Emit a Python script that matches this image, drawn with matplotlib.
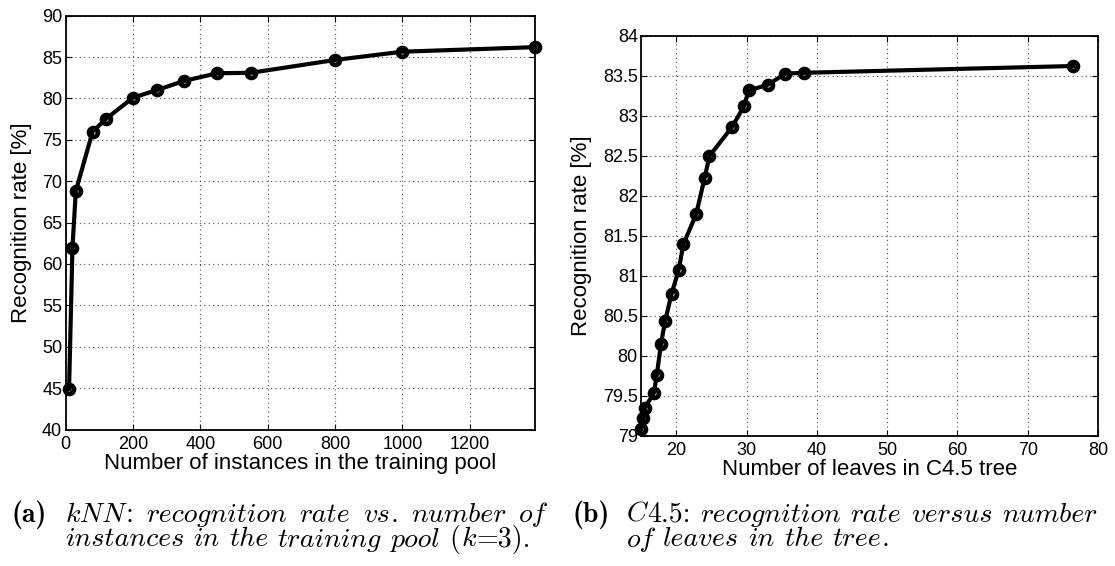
import matplotlib
matplotlib.use("Agg")
import matplotlib.pyplot as plt
from matplotlib.font_manager import FontProperties
from matplotlib.ticker import FuncFormatter, MultipleLocator

# kNN: size of the training pool vs. recognition rate
knn_instances = [10, 20, 30, 80, 120, 200, 270, 350, 450, 550, 800, 1000, 1395]
knn_rate = [44.9, 61.9, 68.8, 76.0, 77.55, 80.1, 81.0, 82.1, 83.05, 83.1, 84.65, 85.65, 86.2]

# C4.5: number of leaves vs. recognition rate
c45_leaves = [15.0, 15.3, 15.5, 16.8, 17.2, 17.8, 18.4, 19.3, 20.3, 21.0, 22.8,
              24.0, 24.7, 27.9, 29.6, 30.3, 33.0, 35.5, 38.2, 76.5]
c45_rate = [79.09, 79.22, 79.35, 79.54, 79.76, 80.15, 80.44, 80.775, 81.07, 81.40, 81.77,
            82.22, 82.50, 82.86, 83.12, 83.32, 83.39, 83.53, 83.54, 83.625]

knn_xticks = [0, 200, 400, 600, 800, 1000, 1200]
c45_xticks = [20, 30, 40, 50, 60, 70, 80]

caption_a = ["(a)", "kNN: recognition rate vs. number of", "instances in the training pool (k=3)."]
caption_b = ["(b)", "C4.5: recognition rate versus number", "of leaves in the tree."]

W, H = 1115, 566
DPI = 100
plt.rcParams["font.family"] = ["Liberation Sans", "DejaVu Sans"]
fig = plt.figure(figsize=(W / DPI, H / DPI), dpi=DPI)


def px_axes(left, top, right, bottom):
    return fig.add_axes([left / W, 1 - bottom / H, (right - left) / W, (bottom - top) / H])


def style(ax, xpad):
    ax.grid(True, color="0.3", linestyle=(0, (1, 3)), linewidth=0.8)
    ax.set_axisbelow(True)
    for s in ax.spines.values():
        s.set_linewidth(1.3)
    ax.tick_params(direction="in", length=4, width=0.8, labelsize=13,
                   top=True, right=True)
    ax.tick_params(axis="y", pad=2.5)
    ax.tick_params(axis="x", pad=xpad)


line_kw = dict(color="black", linewidth=3.0, marker="o", markersize=6.4,
               markerfacecolor="none", markeredgewidth=3.4, clip_on=False, zorder=5)
label_fs = 16

# left panel
ax1 = px_axes(65.7, 15.7, 535.3, 429.5)
ax1.plot(knn_instances, knn_rate, **line_kw)
ax1.set_xlim(0, 1395)
ax1.set_ylim(40, 90)
ax1.set_xticks(knn_xticks)
ax1.yaxis.set_major_locator(MultipleLocator(5))
style(ax1, 5.0)
ax1.set_xlabel("Number of instances in the training pool", fontsize=label_fs, labelpad=0)
ax1.set_ylabel("Recognition rate [%]", fontsize=label_fs, labelpad=7)

# right panel
ax2 = px_axes(641.3, 36, 1098, 436)
ax2.plot(c45_leaves, c45_rate, **line_kw)
ax2.set_xlim(15, 80)
ax2.set_ylim(79, 84)
ax2.set_xticks(c45_xticks)
ax2.yaxis.set_major_locator(MultipleLocator(0.5))
ax2.yaxis.set_major_formatter(FuncFormatter(lambda v, p: f"{v:g}"))
style(ax2, 4.5)
ax2.set_xlabel("Number of leaves in C4.5 tree", fontsize=label_fs, labelpad=0)
ax2.set_ylabel("Recognition rate [%]", fontsize=label_fs, labelpad=8)

# ---- captions below the panels, set in Computer Modern ----
fig.canvas.draw()
renderer = fig.canvas.get_renderer()
RUN_GAP = 0.03  # em between a letter run and a punctuation/digit run


def runs(word):
    """Split a word into letter runs (math italic) and other runs (roman)."""
    out = []
    for ch in word:
        fam = "cmmi10" if ch.isalpha() else "cmr10"
        if out and out[-1][1] == fam:
            out[-1][0] += ch
        else:
            out.append([ch, fam])
    return out


def run_width(text, fam, fs):
    w, _, _ = renderer.get_text_width_height_descent(
        text, FontProperties(family=fam, size=fs), ismath=False)
    return w


def em(fs):
    return fs * DPI / 72


def word_width(word, fs):
    parts = runs(word)
    return sum(run_width(t, f, fs) for t, f in parts) + RUN_GAP * em(fs) * (len(parts) - 1)


def draw_word(word, x, y, fs):
    for t, f in runs(word):
        fig.text(x / W, 1 - y / H, t, family=f, fontsize=fs, ha="left", va="baseline")
        x += run_width(t, f, fs) + RUN_GAP * em(fs)


def line_width(line, fs):
    words = line.split(" ")
    return sum(word_width(w, fs) for w in words) + 0.333 * em(fs) * (len(words) - 1)


# font size chosen so the second line of (a) spans its measured width
cap_fs = 10 * 466 / line_width(caption_a[2], 10)


def caption(lines, x_label, x0, x1, y1, y2):
    fig.text(x_label / W, 1 - y1 / H, lines[0], family="cmb10", fontsize=cap_fs,
             ha="left", va="baseline")
    # first line justified across the column
    words = lines[1].split(" ")
    widths = [word_width(w, cap_fs) for w in words]
    gap = (x1 - x0 - sum(widths)) / (len(words) - 1)
    x = x0
    for w, wd in zip(words, widths):
        draw_word(w, x, y1, cap_fs)
        x += wd + gap
    # second line with natural spacing
    x = x0
    for w in lines[2].split(" "):
        draw_word(w, x, y2, cap_fs)
        x += word_width(w, cap_fs) + 0.333 * em(cap_fs)


caption(caption_a, 11.7, 65, 546, 521.7, 546.5)
caption(caption_b, 572.7, 626.5, 1097, 521.7, 546.5)

fig.savefig("out.png", dpi=DPI)
